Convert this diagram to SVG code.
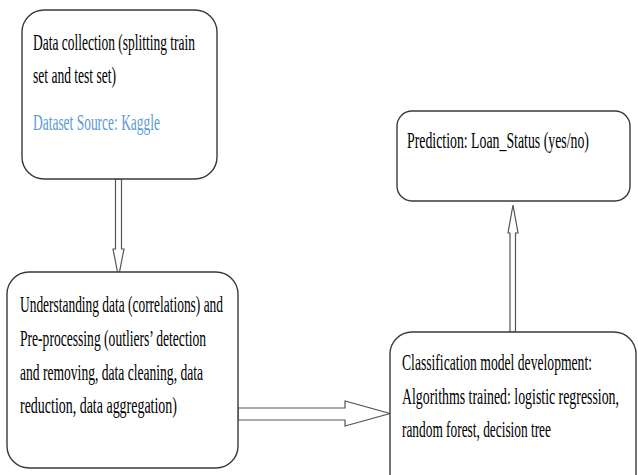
<svg xmlns="http://www.w3.org/2000/svg" width="638" height="475" viewBox="0 0 638 475">
<style>
.box{fill:#fff;stroke:#3a3a3a;stroke-width:1.4}
.arr{fill:#fff;stroke:#555;stroke-width:1.2;stroke-linejoin:miter}
.t{font-family:"Liberation Serif","Times New Roman",serif;font-size:21px;fill:#000}
.blue{fill:#5B9BD5}
</style>
<rect width="638" height="475" fill="#fff"/>
<g id="connectors">
<polygon class="arr" points="115.5,179 121.5,179 121.5,249 124,249 118.5,277 113,249 115.5,249"/>
<polygon class="arr" points="238,408 345,408 345,401 390,413.5 345,426 345,420 238,420"/>
<polygon class="arr" points="510,332 515.5,332 515.5,233 518,233 513,205 508,233 510,233"/>
</g>
<g id="node-collection">
<rect class="box" x="22" y="10" width="195" height="169" rx="22"/>
<text class="t" transform="translate(33,50) scale(0.641,1.06)" textLength="252.7" lengthAdjust="spacingAndGlyphs">Data collection (splitting train</text>
<text class="t" transform="translate(33,83) scale(0.641,1.06)" textLength="129.5" lengthAdjust="spacingAndGlyphs">set and test set)</text>
<text class="t blue" transform="translate(33,130) scale(0.641,1.06)" textLength="198.1" lengthAdjust="spacingAndGlyphs">Dataset Source: Kaggle</text>
</g>
<g id="node-preprocessing">
<rect class="box" x="7" y="272" width="231" height="196" rx="22"/>
<text class="t" transform="translate(20,312) scale(0.641,1.06)" textLength="316.7" lengthAdjust="spacingAndGlyphs">Understanding data (correlations) and</text>
<text class="t" transform="translate(20,346) scale(0.641,1.06)" textLength="290.2" lengthAdjust="spacingAndGlyphs">Pre-processing (outliers’ detection</text>
<text class="t" transform="translate(20,380) scale(0.641,1.06)" textLength="285.5" lengthAdjust="spacingAndGlyphs">and removing, data cleaning, data</text>
<text class="t" transform="translate(20,413) scale(0.641,1.06)" textLength="244.9" lengthAdjust="spacingAndGlyphs">reduction, data aggregation)</text>
</g>
<g id="node-classification">
<rect class="box" x="390" y="332" width="246" height="170" rx="22"/>
<text class="t" transform="translate(402,370) scale(0.641,1.06)" textLength="296.4" lengthAdjust="spacingAndGlyphs">Classification model development:</text>
<text class="t" transform="translate(402,404) scale(0.641,1.06)" textLength="338.5" lengthAdjust="spacingAndGlyphs">Algorithms trained: logistic regression,</text>
<text class="t" transform="translate(402,437) scale(0.641,1.06)" textLength="232.4" lengthAdjust="spacingAndGlyphs">random forest, decision tree</text>
</g>
<g id="node-prediction">
<rect class="box" x="397" y="111" width="233" height="90" rx="15"/>
<text class="t" transform="translate(407,148) scale(0.641,1.06)" textLength="283.9" lengthAdjust="spacingAndGlyphs">Prediction: Loan_Status (yes/no)</text>
</g>
</svg>
